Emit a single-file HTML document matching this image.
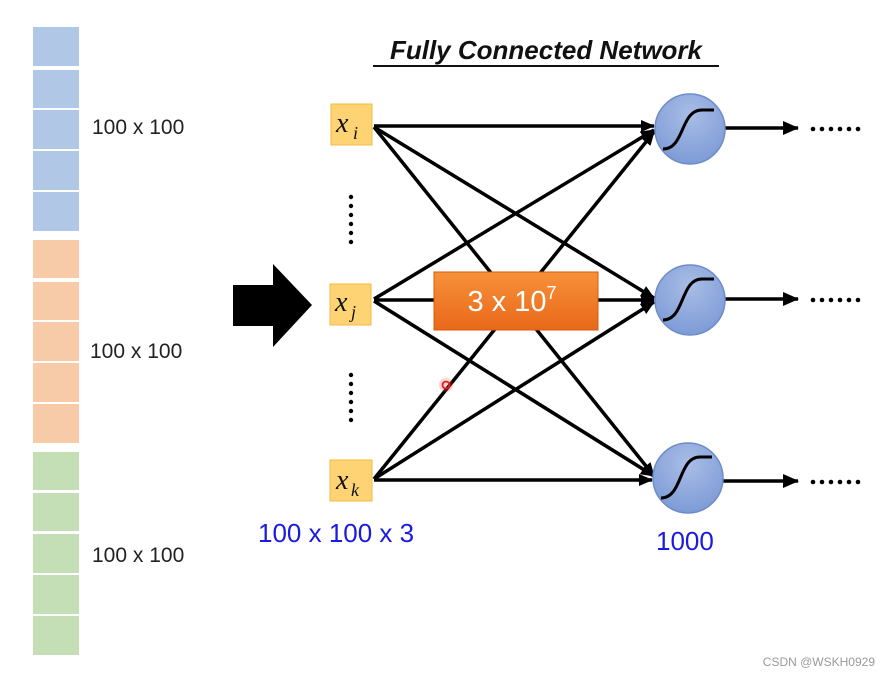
<!DOCTYPE html>
<html><head><style>
body{margin:0;background:#fff;}
svg{display:block;}
</style></head><body>
<svg width="889" height="675" viewBox="0 0 889 675" xmlns="http://www.w3.org/2000/svg">
<defs>
<marker id="ah" markerWidth="14" markerHeight="12" refX="13" refY="6" orient="auto" markerUnits="userSpaceOnUse" viewBox="0 0 14 12">
<path d="M0,0 L14,6 L0,12 z" fill="#000"/></marker>
<marker id="ah2" markerWidth="16" markerHeight="14" refX="15" refY="7" orient="auto" markerUnits="userSpaceOnUse" viewBox="0 0 16 14">
<path d="M0,0 L16,7 L0,14 z" fill="#000"/></marker>
<radialGradient id="cg" cx="0.5" cy="0.3" r="0.7"><stop offset="0" stop-color="#a9bde6"/><stop offset="1" stop-color="#7d9bd6"/></radialGradient>
<linearGradient id="og" x1="0" y1="0" x2="0" y2="1"><stop offset="0" stop-color="#f7913a"/><stop offset="1" stop-color="#e8681a"/></linearGradient>
</defs>
<g fill="#b0c7e5">
<rect x="33" y="27" width="46" height="39"/><rect x="33" y="70" width="46" height="38"/><rect x="33" y="110" width="46" height="39"/><rect x="33" y="151" width="46" height="39"/><rect x="33" y="192" width="46" height="39"/>
</g>
<g fill="#f8cba8">
<rect x="33" y="240" width="46" height="38"/><rect x="33" y="282" width="46" height="38"/><rect x="33" y="322" width="46" height="39"/><rect x="33" y="363" width="46" height="39"/><rect x="33" y="404" width="46" height="39"/>
</g>
<g fill="#c4dfb5">
<rect x="33" y="452" width="46" height="38"/><rect x="33" y="493" width="46" height="38"/><rect x="33" y="534" width="46" height="39"/><rect x="33" y="575" width="46" height="39"/><rect x="33" y="616" width="46" height="39"/>
</g>
<g font-family="Liberation Sans, sans-serif" font-size="21" fill="#222">
<text x="92" y="134">100 x 100</text>
<text x="90" y="358">100 x 100</text>
<text x="92" y="562">100 x 100</text>
</g>
<path d="M233,285 L273,285 L273,264 L312,305 L273,347 L273,326 L233,326 z" fill="#000"/>
<text x="546" y="59" text-anchor="middle" font-family="Liberation Sans, sans-serif" font-size="26" font-weight="bold" font-style="italic" fill="#111">Fully Connected Network</text>
<line x1="373" y1="66" x2="719" y2="66" stroke="#111" stroke-width="2"/>
<g stroke="#000" stroke-width="3.5" fill="none" marker-end="url(#ah)">
<line x1="374" y1="126" x2="654" y2="126"/>
<line x1="374" y1="127" x2="654" y2="298"/>
<line x1="374" y1="127" x2="654" y2="476"/>
<line x1="374" y1="299" x2="654" y2="130"/>
<line x1="374" y1="300" x2="654" y2="300"/>
<line x1="374" y1="301" x2="654" y2="476"/>
<line x1="374" y1="479" x2="654" y2="132"/>
<line x1="374" y1="479" x2="654" y2="302"/>
<line x1="374" y1="480" x2="652" y2="480"/>
</g>
<g stroke="#000" stroke-width="3.5" marker-end="url(#ah2)">
<line x1="725" y1="128" x2="798" y2="128"/>
<line x1="725" y1="299" x2="798" y2="299"/>
<line x1="723" y1="481" x2="798" y2="481"/>
</g>
<g fill="#000">
<circle cx="813" cy="129" r="2.3"/><circle cx="822" cy="129" r="2.3"/><circle cx="831" cy="129" r="2.3"/><circle cx="840" cy="129" r="2.3"/><circle cx="849" cy="129" r="2.3"/><circle cx="858" cy="129" r="2.3"/>
<circle cx="813" cy="300" r="2.3"/><circle cx="822" cy="300" r="2.3"/><circle cx="831" cy="300" r="2.3"/><circle cx="840" cy="300" r="2.3"/><circle cx="849" cy="300" r="2.3"/><circle cx="858" cy="300" r="2.3"/>
<circle cx="813" cy="482" r="2.3"/><circle cx="822" cy="482" r="2.3"/><circle cx="831" cy="482" r="2.3"/><circle cx="840" cy="482" r="2.3"/><circle cx="849" cy="482" r="2.3"/><circle cx="858" cy="482" r="2.3"/>
</g>
<g stroke="#6d8cc8" stroke-width="1.5" fill="url(#cg)">
<circle cx="690" cy="129" r="35"/><circle cx="690" cy="300" r="35"/><circle cx="688" cy="478" r="35"/>
</g>
<g stroke="#000" stroke-width="3" fill="none">
<path d="M663,149 C685,149 680,110 702,110 L714,110"/>
<path d="M663,320 C685,320 680,279 702,279 L714,279"/>
<path d="M661,498 C683,498 678,457 700,457 L712,457"/>
</g>
<g fill="#fdd374" stroke="#f4b942" stroke-width="1">
<rect x="331" y="104" width="41" height="41"/><rect x="330" y="284" width="41" height="41"/><rect x="330" y="460" width="42" height="41"/>
</g>
<g font-family="Liberation Serif, serif" font-style="italic" fill="#111">
<text x="336" y="132" font-size="28">x</text><text x="353" y="139" font-size="18">i</text>
<text x="335" y="311" font-size="28">x</text><text x="351" y="318" font-size="18">j</text>
<text x="336" y="489" font-size="28">x</text><text x="351" y="496" font-size="18">k</text>
</g>
<g fill="#000">
<circle cx="351" cy="197" r="2.2"/><circle cx="351" cy="206" r="2.2"/><circle cx="351" cy="215" r="2.2"/><circle cx="351" cy="224" r="2.2"/><circle cx="351" cy="233" r="2.2"/><circle cx="351" cy="242" r="2.2"/>
<circle cx="351" cy="375" r="2.2"/><circle cx="351" cy="384" r="2.2"/><circle cx="351" cy="393" r="2.2"/><circle cx="351" cy="402" r="2.2"/><circle cx="351" cy="411" r="2.2"/><circle cx="351" cy="420" r="2.2"/>
</g>
<rect x="434" y="272" width="164" height="58" fill="url(#og)" stroke="#d65a10" stroke-width="1"/>
<text x="512" y="311" text-anchor="middle" font-family="Liberation Sans, sans-serif" font-size="29" fill="#fff">3 x 10<tspan font-size="18" dy="-12">7</tspan></text>
<circle cx="446" cy="385" r="7" fill="#ff5050" opacity="0.25"/>
<circle cx="446" cy="385" r="3.5" fill="none" stroke="#e02020" stroke-width="1.8"/>
<g font-family="Liberation Sans, sans-serif" font-size="26" fill="#1a1ae0">
<text x="258" y="542">100 x 100 x 3</text>
<text x="656" y="550">1000</text>
</g>
<text x="875" y="666" text-anchor="end" font-family="Liberation Sans, sans-serif" font-size="12" fill="#999">CSDN @WSKH0929</text>
</svg>
</body></html>
